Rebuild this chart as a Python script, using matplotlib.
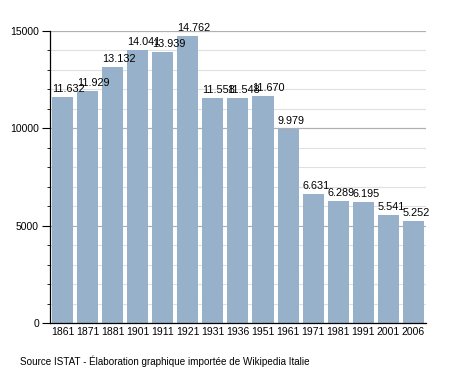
import matplotlib
matplotlib.use("Agg")
import matplotlib.pyplot as plt
from matplotlib.ticker import MultipleLocator

plt.rcParams['font.family'] = ['Liberation Sans', 'DejaVu Sans']

# Data
years = ["1861", "1871", "1881", "1901", "1911", "1921", "1931", "1936",
         "1951", "1961", "1971", "1981", "1991", "2001", "2006"]
population = [11632, 11929, 13132, 14041, 13939, 14762, 11558, 11548,
              11670, 9979, 6631, 6289, 6195, 5541, 5252]
labels = ["11.632", "11.929", "13.132", "14.041", "13.939", "14.762", "11.558",
          "11.548", "11.670", "9.979", "6.631", "6.289", "6.195", "5.541", "5.252"]

fig = plt.figure(figsize=(4.55, 3.73), dpi=100)
ax = fig.add_axes([0.110, 0.134, 0.826, 0.783])

x = range(len(years))
ax.bar(x, population, width=0.84, color="#97b1cb", zorder=3)

# Value labels, left-aligned on each bar
for i, (v, lab) in enumerate(zip(population, labels)):
    ax.text(i - 0.42, v + 150, lab, ha="left", va="bottom", fontsize=7.8, zorder=4)

ax.set_xlim(-0.5, len(years) - 0.5)
ax.set_ylim(0, 15000)
ax.set_xticks(list(x))
ax.set_xticklabels(years, fontsize=7.5)
ax.tick_params(axis="x", length=0, pad=3)

ax.yaxis.set_major_locator(MultipleLocator(5000))
ax.yaxis.set_minor_locator(MultipleLocator(1000))
ax.tick_params(axis="y", which="major", length=6, labelsize=7.5, pad=2)
ax.tick_params(axis="y", which="minor", length=2)

ax.grid(axis="y", which="major", color="#b0b0b0", linewidth=0.9, zorder=0)
ax.grid(axis="y", which="minor", color="#e0e0e0", linewidth=0.8, zorder=0)

for side in ["top", "right"]:
    ax.spines[side].set_visible(False)
ax.spines["left"].set_linewidth(0.9)
ax.spines["bottom"].set_linewidth(0.9)
ax.spines["left"].set_zorder(5)
ax.spines["bottom"].set_zorder(5)

fig.text(0.044, 0.016, "Source ISTAT - Élaboration graphique importée de Wikipedia Italie",
         fontsize=7.1, ha="left", va="bottom")

fig.savefig("out.png", dpi=100)
